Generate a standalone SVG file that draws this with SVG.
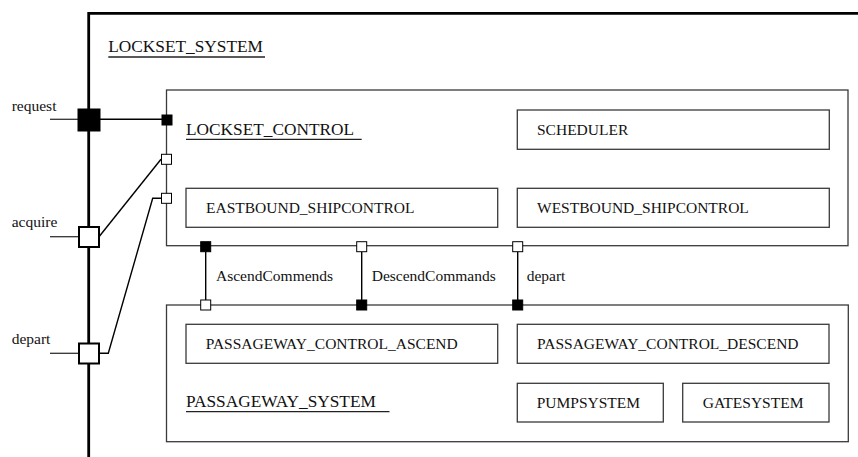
<svg xmlns="http://www.w3.org/2000/svg" width="858" height="457" viewBox="0 0 858 457" font-family="'Liberation Serif', 'Times New Roman', 'DejaVu Serif', serif">
<style>
text{font-family:'Liberation Serif','Times New Roman','DejaVu Serif',serif;fill:#111;}
.t{font-size:15.5px;}
.title{font-size:17.3px;}
.box{fill:#fff;stroke:#3a3a3a;stroke-width:1.3;}
.frame{fill:none;stroke:#3a3a3a;stroke-width:1.3;}
.ul{stroke:#222;stroke-width:1.3;}
.con{fill:none;stroke:#000;stroke-width:1.4;}
.pf{fill:#000;stroke:#000;stroke-width:1;}
.pw{fill:#fff;stroke:#000;stroke-width:1;}
.bigw{fill:#fff;stroke:#000;stroke-width:2;}
</style>
<rect width="858" height="457" fill="#fff"/>
<g id="LOCKSET_SYSTEM">
<path d="M88.7 457 V13.3 H858" fill="none" stroke="#000" stroke-width="2.8"/>
<text class="title" x="108.3" y="51.7" font-family="Liberation Serif, serif">LOCKSET_SYSTEM</text>
<line class="ul" x1="108.3" y1="57" x2="265" y2="57"/>
</g>
<g id="LOCKSET_CONTROL">
<rect class="frame" x="166.5" y="90" width="681.5" height="155.7"/>
<text class="title" x="186" y="135" font-family="Liberation Serif, serif">LOCKSET_CONTROL</text>
<line class="ul" x1="186" y1="139.3" x2="361.7" y2="139.3"/>
</g>
<g id="SCHEDULER">
<rect class="box" x="517.3" y="110" width="312" height="39.3"/>
<text class="t" x="537" y="135" font-family="Liberation Serif, serif">SCHEDULER</text>
</g>
<g id="EASTBOUND_SHIPCONTROL">
<rect class="box" x="186" y="188.3" width="311.7" height="39"/>
<text class="t" x="206" y="213.3" font-family="Liberation Serif, serif">EASTBOUND_SHIPCONTROL</text>
</g>
<g id="WESTBOUND_SHIPCONTROL">
<rect class="box" x="517.3" y="188.3" width="312" height="39"/>
<text class="t" x="537" y="213.3" font-family="Liberation Serif, serif">WESTBOUND_SHIPCONTROL</text>
</g>
<g id="PASSAGEWAY_SYSTEM">
<rect class="frame" x="166.5" y="305" width="681.8" height="136.7"/>
<text class="title" x="186" y="407.3" font-family="Liberation Serif, serif">PASSAGEWAY_SYSTEM</text>
<line class="ul" x1="186" y1="411.7" x2="389.5" y2="411.7"/>
</g>
<g id="PASSAGEWAY_CONTROL_ASCEND">
<rect class="box" x="186" y="324.3" width="311.7" height="39"/>
<text class="t" x="205.7" y="348.7" font-family="Liberation Serif, serif">PASSAGEWAY_CONTROL_ASCEND</text>
</g>
<g id="PASSAGEWAY_CONTROL_DESCEND">
<rect class="box" x="517.3" y="324.3" width="311.7" height="39"/>
<text class="t" x="537" y="348.7" font-family="Liberation Serif, serif">PASSAGEWAY_CONTROL_DESCEND</text>
</g>
<g id="PUMPSYSTEM">
<rect class="box" x="517.3" y="383.3" width="146" height="38.7"/>
<text class="t" x="536.7" y="408.3" font-family="Liberation Serif, serif">PUMPSYSTEM</text>
</g>
<g id="GATESYSTEM">
<rect class="box" x="682.7" y="383.3" width="146.3" height="38.7"/>
<text class="t" x="702.7" y="408.3" font-family="Liberation Serif, serif">GATESYSTEM</text>
</g>
<g id="connectors">
<line x1="50" y1="119.3" x2="78" y2="119.3" stroke="#333" stroke-width="1.3"/>
<line x1="50" y1="236.7" x2="78.3" y2="236.7" stroke="#333" stroke-width="1.3"/>
<line x1="50" y1="353.3" x2="79" y2="353.3" stroke="#333" stroke-width="1.3"/>
<line class="con" x1="100" y1="119.3" x2="162" y2="119.3"/>
<line class="con" x1="99" y1="236.7" x2="161" y2="159.3"/>
<polyline class="con" points="99,353.3 108.3,353.3 152.7,198.3 161,198.3" stroke-width="1.1"/>
<line class="con" x1="205.7" y1="251.7" x2="205.7" y2="300"/>
<line class="con" x1="361.7" y1="251.7" x2="361.7" y2="300"/>
<line class="con" x1="517.7" y1="251.7" x2="517.7" y2="300"/>
</g>
<g id="ports">
<rect class="pf" x="78" y="109" width="22" height="22"/>
<rect class="bigw" x="79" y="227" width="20" height="20"/>
<rect class="bigw" x="79" y="343.5" width="20" height="20"/>
<rect class="pf" x="162" y="115" width="10" height="10"/>
<rect class="pw" x="161.5" y="154.3" width="10" height="10"/>
<rect class="pw" x="161.5" y="193.3" width="10" height="10"/>
<rect class="pf" x="200.7" y="241.7" width="10" height="10"/>
<rect class="pw" x="356.7" y="241.7" width="10" height="10"/>
<rect class="pw" x="512.7" y="241.7" width="10" height="10"/>
<rect class="pw" x="200.7" y="300" width="10" height="10"/>
<rect class="pf" x="356.7" y="300" width="10" height="10"/>
<rect class="pf" x="512.7" y="300" width="10" height="10"/>
</g>
<g id="labels">
<text class="t" x="11.7" y="110.5" font-family="Liberation Serif, serif">request</text>
<text class="t" x="11.7" y="227.3" font-family="Liberation Serif, serif">acquire</text>
<text class="t" x="11.7" y="343.5" font-family="Liberation Serif, serif">depart</text>
<text class="t" x="216" y="280.5" font-family="Liberation Serif, serif">AscendCommends</text>
<text class="t" x="371.7" y="280.5" font-family="Liberation Serif, serif">DescendCommands</text>
<text class="t" x="526.7" y="280.5" font-family="Liberation Serif, serif">depart</text>
</g>
</svg>
